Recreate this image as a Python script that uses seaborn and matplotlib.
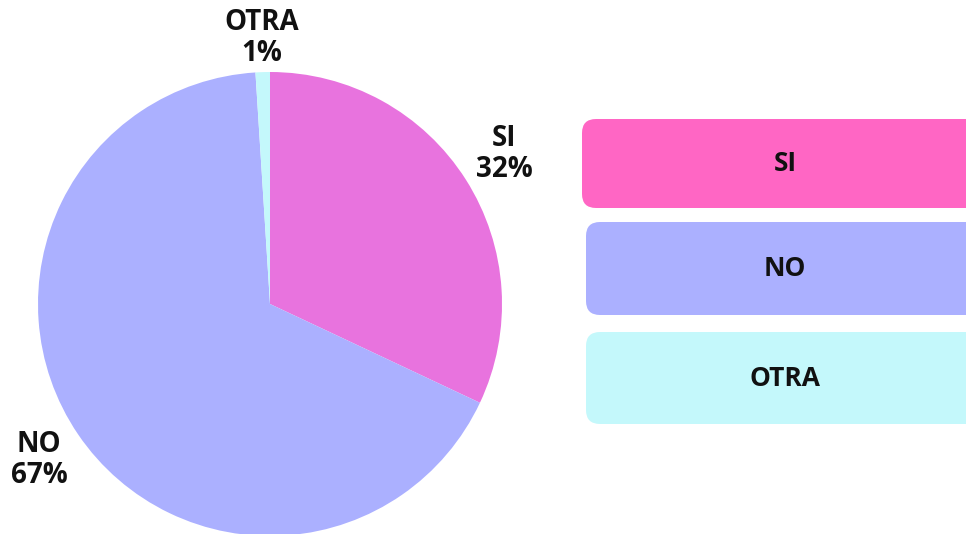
import matplotlib
matplotlib.use("Agg")
import matplotlib.pyplot as plt
from matplotlib.patches import FancyBboxPatch
import seaborn as sns

categories = ["SI", "NO", "OTRA"]
values = [32, 67, 1]
pie_colors = ["#E873DE", "#ABB0FF", "#C4F8FB"]
legend_colors = ["#FF66C4", "#ABB0FF", "#C4F8FB"]

sns.set_theme(style="white")
plt.rcParams['font.family'] = ['Open Sans', 'DejaVu Sans']

W, H = 966, 534
fig = plt.figure(figsize=(W / 100, H / 100), dpi=100)
ax = fig.add_axes([0, 0, 1, 1])

cx, cy, r = 270, H - 304, 232
ax.pie(values, colors=pie_colors, startangle=90, counterclock=False,
       center=(cx, cy), radius=r, frame=True,
       wedgeprops=dict(linewidth=0))
ax.set_xlim(0, W)
ax.set_ylim(0, H)
ax.axis("off")
ax.set_aspect("auto")

label_pos = {"SI": (504, 154), "NO": (39, 460), "OTRA": (262, 38)}
for c, v in zip(categories, values):
    x, y = label_pos[c]
    ax.text(x, H - y, f"{c}\n{v}%", ha="center", va="center",
            fontsize=20, fontweight="bold", color="#111111", linespacing=1.1)

boxes = [(582, 119, 208), (586, 222, 315), (586, 332, 424)]
for c, col, (x0, y0, y1) in zip(categories, legend_colors, boxes):
    p = FancyBboxPatch((x0 + 14, H - y1 + 14), 420 - 28, (y1 - y0) - 28,
                       boxstyle="round,pad=14", facecolor=col,
                       edgecolor="none", clip_on=True)
    ax.add_patch(p)
    ax.text(785, H - (y0 + y1) / 2, c, ha="center", va="center",
            fontsize=19, fontweight="bold", color="#111111")

fig.savefig("out.png", dpi=100, facecolor="white")
